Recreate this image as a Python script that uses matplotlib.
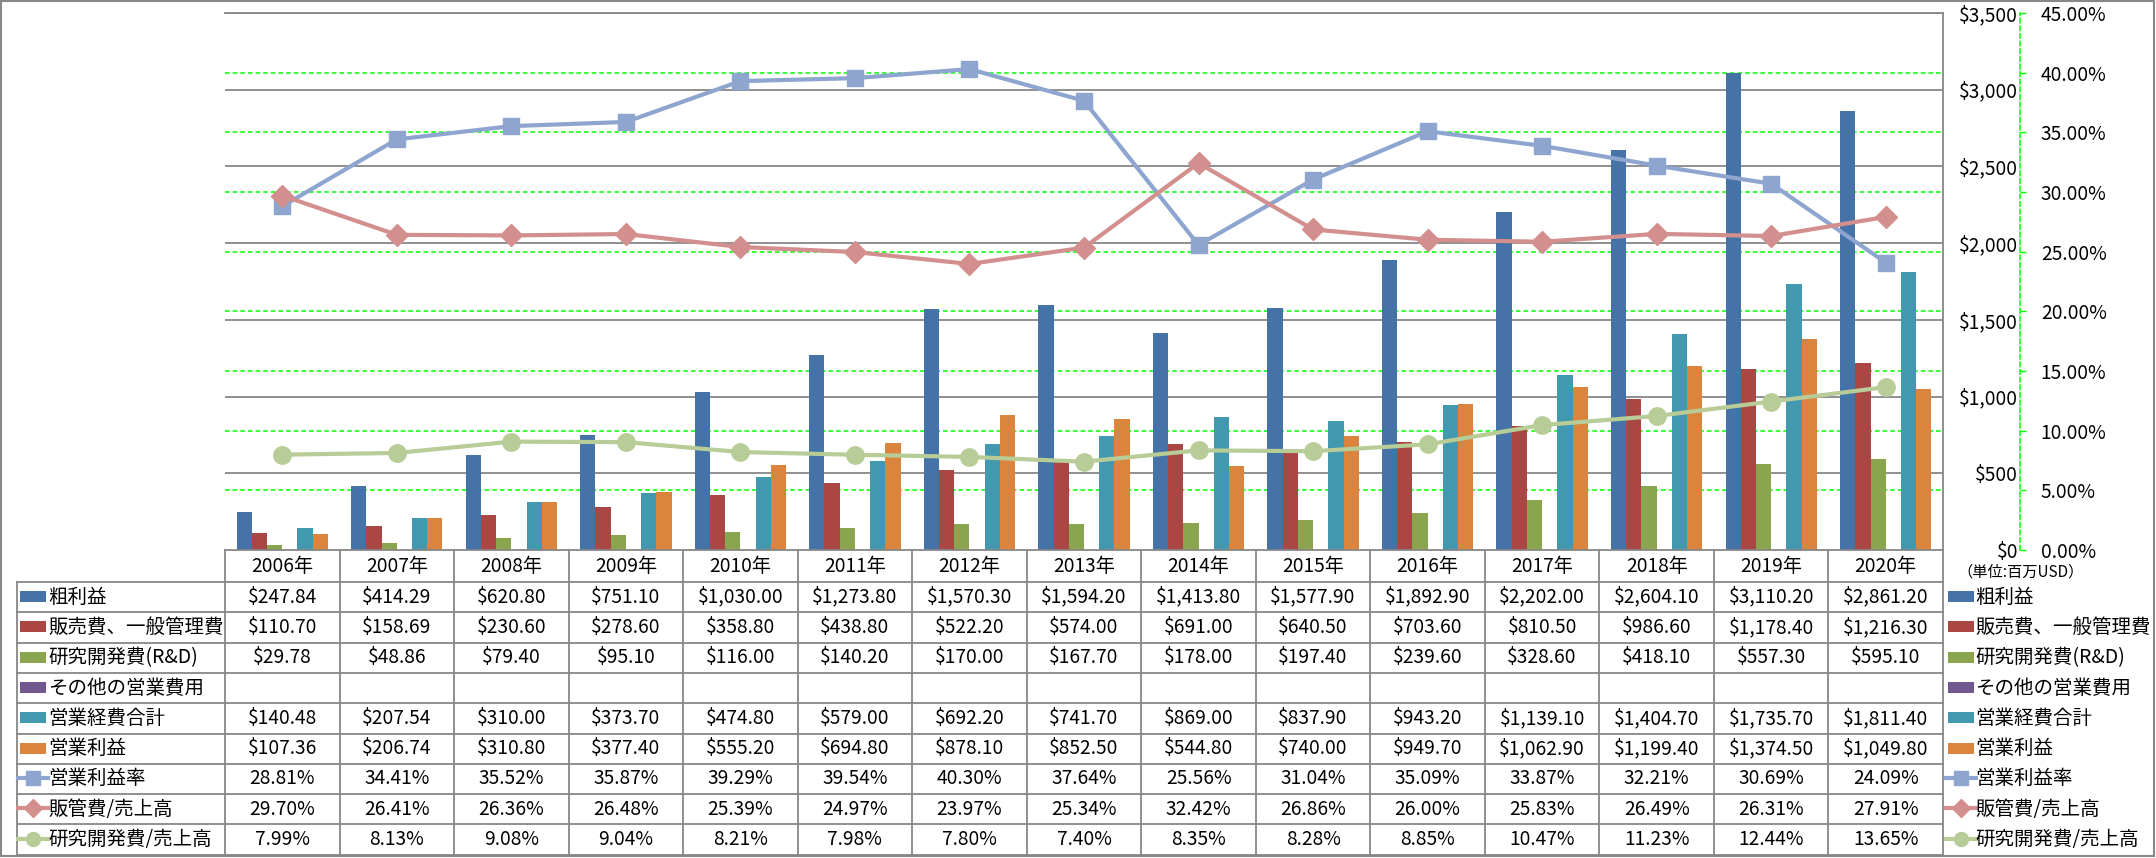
import numpy as np
import matplotlib
matplotlib.use("Agg")
from matplotlib import pyplot as plt
import matplotlib.patches as patches
from matplotlib.lines import Line2D

plt.rcParams['font.family'] = ['Noto Sans CJK JP', 'DejaVu Sans']

# Data
years = ["2006年", "2007年", "2008年", "2009年", "2010年", "2011年", "2012年", "2013年",
         "2014年", "2015年", "2016年", "2017年", "2018年", "2019年", "2020年"]
gross_profit = [247.84, 414.29, 620.80, 751.10, 1030.00, 1273.80, 1570.30, 1594.20,
                1413.80, 1577.90, 1892.90, 2202.00, 2604.10, 3110.20, 2861.20]
sga = [110.70, 158.69, 230.60, 278.60, 358.80, 438.80, 522.20, 574.00,
       691.00, 640.50, 703.60, 810.50, 986.60, 1178.40, 1216.30]
rnd = [29.78, 48.86, 79.40, 95.10, 116.00, 140.20, 170.00, 167.70,
       178.00, 197.40, 239.60, 328.60, 418.10, 557.30, 595.10]
other_opex = [None] * 15
total_opex = [140.48, 207.54, 310.00, 373.70, 474.80, 579.00, 692.20, 741.70,
              869.00, 837.90, 943.20, 1139.10, 1404.70, 1735.70, 1811.40]
op_income = [107.36, 206.74, 310.80, 377.40, 555.20, 694.80, 878.10, 852.50,
             544.80, 740.00, 949.70, 1062.90, 1199.40, 1374.50, 1049.80]
op_margin = [28.81, 34.41, 35.52, 35.87, 39.29, 39.54, 40.30, 37.64,
             25.56, 31.04, 35.09, 33.87, 32.21, 30.69, 24.09]
sga_ratio = [29.70, 26.41, 26.36, 26.48, 25.39, 24.97, 23.97, 25.34,
             32.42, 26.86, 26.00, 25.83, 26.49, 26.31, 27.91]
rnd_ratio = [7.99, 8.13, 9.08, 9.04, 8.21, 7.98, 7.80, 7.40,
             8.35, 8.28, 8.85, 10.47, 11.23, 12.44, 13.65]

bar_names = ["粗利益", "販売費、一般管理費", "研究開発費(R&D)", "その他の営業費用", "営業経費合計", "営業利益"]
bar_data = [gross_profit, sga, rnd, other_opex, total_opex, op_income]
bar_colors = ["#4572A7", "#AA4643", "#89A54E", "#71588F", "#4198AF", "#DB843D"]

line_names = ["営業利益率", "販管費/売上高", "研究開発費/売上高"]
line_data = [op_margin, sga_ratio, rnd_ratio]
line_colors = ["#8DA5CF", "#D28F8D", "#B7CC96"]
line_markers = ["s", "D", "o"]
line_msize = [12, 11.5, 12.5]

usd_ticks = np.arange(0, 3501, 500)
pct_ticks = np.arange(0, 46, 5)

# Layout (pixels)
W, H = 2156, 858
PL, PR, PT, PB = 225, 1943, 13, 550
row_top = 582
row_h = 30.3
grid_gray = "#878787"
fs = 13.8
fs_name = 14.0

fig = plt.figure(figsize=(W / 100, H / 100), dpi=100)

# percent axis (bottom layer: green grid + right spine)
ax_pct = fig.add_axes([PL / W, 1 - PB / H, (PR - PL) / W, (PB - PT) / H])
ax = ax_pct.twinx()
ax_line = ax_pct.twinx()
ax_pct.set_zorder(0)
ax.set_zorder(1)
ax_line.set_zorder(2)
ax.patch.set_visible(False)
ax_line.patch.set_visible(False)

n = len(years)
x = np.arange(n)
bw = 0.133
for i, (name, vals, col) in enumerate(zip(bar_names, bar_data, bar_colors)):
    v = [np.nan if a is None else a for a in vals]
    ax.bar(x + (i - 2.5) * bw, v, width=bw, color=col, zorder=3)

ax.set_xlim(-0.5, n - 0.5)
ax.set_ylim(0, 3500)
ax.set_yticks(usd_ticks)
ax.yaxis.tick_right()
ax.tick_params(axis="y", length=0, pad=54, labelsize=fs)
ax.set_yticklabels(["${:,}".format(int(t)) for t in usd_ticks], fontsize=fs)
for lb in ax.get_yticklabels():
    lb.set_ha("right")
for t in usd_ticks[1:]:
    ax.axhline(t, color=grid_gray, lw=1.3, zorder=1)
ax.set_xticks([])
for s in ["left", "top", "bottom", "right"]:
    ax.spines[s].set_visible(False)

ax_pct.set_ylim(0, 45)
ax_pct.set_xlim(-0.5, n - 0.5)
ax_pct.set_xticks([])
ax_pct.set_yticks(pct_ticks)
ax_pct.yaxis.tick_right()
ax_pct.tick_params(axis="y", length=4, width=1, color="#00FF00", direction="out", pad=11,
                   labelsize=fs)
ax_pct.set_yticklabels(["{:.2f}%".format(t) for t in pct_ticks], fontsize=fs)
for t in pct_ticks[1:-1]:
    ax_pct.axhline(t, color="#00FF00", lw=1.1, ls=(0, (3, 2)), zorder=1)
for s in ["left", "top", "bottom"]:
    ax_pct.spines[s].set_visible(False)
ax_pct.spines["right"].set_position(("outward", 77 * 0.72))
ax_pct.spines["right"].set_color("#00FF00")
ax_pct.spines["right"].set_linestyle((0, (3, 2)))
ax_pct.spines["right"].set_linewidth(1.1)

for vals, col, mk, ms in zip(line_data, line_colors, line_markers, line_msize):
    ax_line.plot(x, vals, color=col, lw=3, marker=mk, ms=ms, mfc=col, mec=col, zorder=5,
                 clip_on=False)
ax_line.set_ylim(0, 45)
ax_line.set_xlim(-0.5, n - 0.5)
ax_line.axis("off")

# table / legend layer in pixel coordinates
tab = fig.add_axes([0, 0, 1, 1], zorder=3)
tab.set_xlim(0, W)
tab.set_ylim(H, 0)
tab.axis("off")
tab.patch.set_visible(False)

line_kw = dict(color=grid_gray, lw=1.3)
# top border of the plot area + right edge
tab.plot([PL, PR], [PT, PT], **line_kw)
tab.plot([PR, PR], [PT, row_top + 9 * row_h], **line_kw)

colw = (PR - PL) / n
tab.plot([PL, PR], [PB, PB], **line_kw)
for k in range(10):
    yy = row_top + k * row_h
    tab.plot([17, PR], [yy, yy], **line_kw)
tab.plot([17, 17], [row_top, row_top + 9 * row_h], **line_kw)
for i in range(n):
    xx = PL + i * colw
    tab.plot([xx, xx], [PB, row_top + 9 * row_h], **line_kw)
    tab.text(xx + colw / 2, (PB + row_top) / 2, years[i], ha="center", va="center", fontsize=fs)

row_names = bar_names + line_names
row_vals = bar_data + line_data


def fmt(v, is_pct):
    if v is None:
        return ""
    if is_pct:
        return "{:.2f}%".format(v)
    return "${:,.2f}".format(v)


def legend_key(x0, yc, r):
    if r < len(bar_names):
        tab.add_patch(patches.Rectangle((x0 + 2, yc - 5), 26, 11, color=bar_colors[r], lw=0))
    else:
        j = r - len(bar_names)
        tab.add_line(Line2D([x0, x0 + 30], [yc, yc], color=line_colors[j], lw=3))
        tab.add_line(Line2D([x0 + 15], [yc], marker=line_markers[j], ms=line_msize[j] * 0.8,
                            color=line_colors[j], mec=line_colors[j]))


for r, (name, vals) in enumerate(zip(row_names, row_vals)):
    yc = row_top + (r + 0.5) * row_h
    is_pct = r >= len(bar_names)
    legend_key(18, yc - 1, r)
    tab.text(48, yc, name, ha="left", va="center", fontsize=fs_name)
    for i, v in enumerate(vals):
        tab.text(PL + (i + 0.5) * colw, yc, fmt(v, is_pct), ha="center", va="center", fontsize=fs)
    # right legend
    legend_key(1946, yc - 1, r)
    tab.text(1975, yc, name, ha="left", va="center", fontsize=fs_name)

tab.text(1957, 572, "（単位:百万USD）", ha="left", va="center", fontsize=11)

# outer border
tab.add_patch(patches.Rectangle((1, 1), W - 3, H - 3, fill=False, ec=grid_gray, lw=1.5))

fig.savefig("out.png", dpi=100)
